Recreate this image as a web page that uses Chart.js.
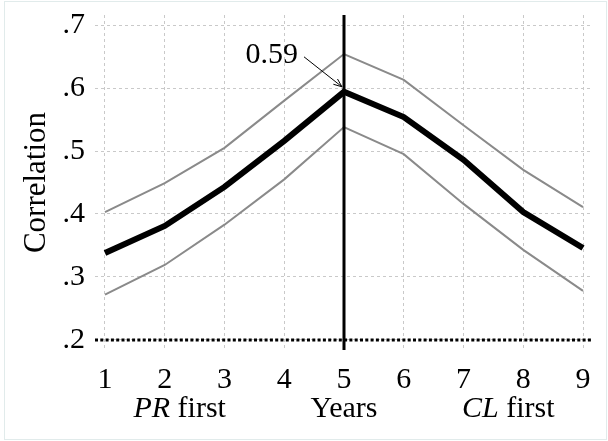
<!DOCTYPE html>
<html>
<head>
<meta charset="utf-8">
<script src="https://cdn.jsdelivr.net/npm/chart.js@4.4.1/dist/chart.umd.min.js"></script>
<style>
  html, body { margin: 0; padding: 0; background: #fff; }
  #wrap { position: relative; width: 608px; height: 441px; }
  #frame { position: absolute; left: 4px; top: 1px; width: 601px; height: 437px; border: 1px solid #e1ebeb; pointer-events: none; }
  canvas { display: block; }
</style>
</head>
<body>
<div id="wrap">
  <canvas id="c" width="608" height="441"></canvas>
  <div id="frame"></div>
</div>
<script>
// Years between the two events (1..9)
const years = [1, 2, 3, 4, 5, 6, 7, 8, 9];
// Estimated correlation and its confidence band
const correlation = [0.338, 0.381, 0.443, 0.516, 0.594, 0.554, 0.486, 0.403, 0.346];
const upperBound  = [0.403, 0.449, 0.505, 0.580, 0.654, 0.613, 0.541, 0.470, 0.411];
const lowerBound  = [0.272, 0.319, 0.383, 0.455, 0.538, 0.495, 0.416, 0.343, 0.278];
// Axis ticks
const xTicks = [1, 2, 3, 4, 5, 6, 7, 8, 9];
const yTicks = [0.2, 0.3, 0.4, 0.5, 0.6, 0.7];
const yTickLabels = ['.2', '.3', '.4', '.5', '.6', '.7'];
// Reference lines
const baselineValue = 0.2;
const splitYear = 5;
// Group labels under the axis: [year position, italic part, plain part]
const groupLabels = [
  [2.25, 'PR', ' first'],
  [5, '', 'Years'],
  [7.75, 'CL', ' first']
];

const SERIF = "'Liberation Serif', 'Times New Roman', serif";
const FS = 30;
const X_MIN = 0.833, X_MAX = 9.167, Y_MIN = 0.184, Y_MAX = 0.716;

const toXY = (vals) => vals.map((v, i) => ({ x: years[i], y: v }));
const peakIndex = correlation.indexOf(Math.max(...correlation));

const annotate = {
  id: 'annotate',
  afterDatasetsDraw(chart) {
    const { ctx, scales: { x, y } } = chart;
    ctx.save();
    // value call-out with arrow
    const px = x.getPixelForValue(years[peakIndex]);
    const py = y.getPixelForValue(correlation[peakIndex]);
    ctx.font = FS + 'px ' + SERIF;
    ctx.fillStyle = '#000';
    ctx.textAlign = 'right';
    ctx.textBaseline = 'middle';
    ctx.fillText(correlation[peakIndex].toFixed(2), px - 46, py - 37);
    const sx = px - 40, sy = py - 35, ex = px - 2, ey = py - 5;
    ctx.strokeStyle = '#000';
    ctx.lineWidth = 1;
    ctx.beginPath();
    ctx.moveTo(sx, sy);
    ctx.lineTo(ex, ey);
    const ang = Math.atan2(ey - sy, ex - sx);
    const hl = 9, ha = 0.38;
    ctx.moveTo(ex - hl * Math.cos(ang - ha), ey - hl * Math.sin(ang - ha));
    ctx.lineTo(ex, ey);
    ctx.lineTo(ex - hl * Math.cos(ang + ha), ey - hl * Math.sin(ang + ha));
    ctx.stroke();

    // group labels below the year ticks
    ctx.textBaseline = 'middle';
    const ly = 409;
    groupLabels.forEach(([pos, it, plain]) => {
      ctx.font = 'italic ' + FS + 'px ' + SERIF;
      const wi = ctx.measureText(it).width;
      ctx.font = FS + 'px ' + SERIF;
      const wp = ctx.measureText(plain).width;
      const cx = x.getPixelForValue(pos);
      const left = cx - (wi + wp) / 2;
      ctx.textAlign = 'left';
      ctx.font = 'italic ' + FS + 'px ' + SERIF;
      ctx.fillText(it, left, ly);
      ctx.font = FS + 'px ' + SERIF;
      ctx.fillText(plain, left + wi, ly);
    });
    ctx.restore();
  }
};

new Chart(document.getElementById('c'), {
  type: 'line',
  data: {
    datasets: [
      {
        data: toXY(correlation),
        borderColor: '#000', borderWidth: 6,
        borderJoinStyle: 'miter', pointRadius: 0, order: 1
      },
      {
        data: toXY(upperBound),
        borderColor: '#8a8a8a', borderWidth: 2, pointRadius: 0, order: 2
      },
      {
        data: toXY(lowerBound),
        borderColor: '#8a8a8a', borderWidth: 2, pointRadius: 0, order: 2
      },
      {
        data: [{ x: X_MIN, y: baselineValue }, { x: X_MAX, y: baselineValue }],
        borderColor: '#000', borderWidth: 3, borderDash: [3, 2.3],
        borderCapStyle: 'butt', pointRadius: 0, clip: false, order: 3
      },
      {
        data: [{ x: splitYear, y: Y_MIN }, { x: splitYear, y: Y_MAX }],
        borderColor: '#000', borderWidth: 3, pointRadius: 0, clip: false, order: 0
      }
    ]
  },
  options: {
    responsive: false,
    animation: false,
    devicePixelRatio: 1,
    layout: { padding: { left: 0, right: 15, top: 15, bottom: 0 } },
    plugins: { legend: { display: false }, tooltip: { enabled: false } },
    elements: { line: { tension: 0, fill: false } },
    scales: {
      x: {
        type: 'linear', min: X_MIN, max: X_MAX,
        afterBuildTicks: (s) => { s.ticks = xTicks.map(v => ({ value: v })); },
        afterFit: (s) => { s.height = 91; s.paddingLeft = 0; s.paddingRight = 0; },
        ticks: {
          color: '#000', font: { family: SERIF, size: FS }, padding: 12,
          maxRotation: 0, autoSkip: false,
          callback: (v) => String(v)
        },
        grid: { color: '#c9c9c9', lineWidth: 1, drawTicks: false },
        border: { display: false, dash: [3, 3] }
      },
      y: {
        type: 'linear', min: Y_MIN, max: Y_MAX,
        afterBuildTicks: (s) => { s.ticks = yTicks.map(v => ({ value: v })); },
        afterFit: (s) => { s.width = 95; s.paddingTop = 0; s.paddingBottom = 0; },
        ticks: {
          color: '#000', font: { family: SERIF, size: FS }, padding: 10,
          callback: (v) => yTickLabels[yTicks.findIndex(t => Math.abs(t - v) < 1e-9)]
        },
        grid: { color: '#c9c9c9', lineWidth: 1, drawTicks: false },
        border: { display: false, dash: [3, 3] },
        title: {
          display: true, text: 'Correlation', color: '#000',
          font: { family: SERIF, size: 31 }, padding: { top: 18, bottom: 0 }
        }
      }
    }
  },
  plugins: [annotate]
});
</script>
</body>
</html>
